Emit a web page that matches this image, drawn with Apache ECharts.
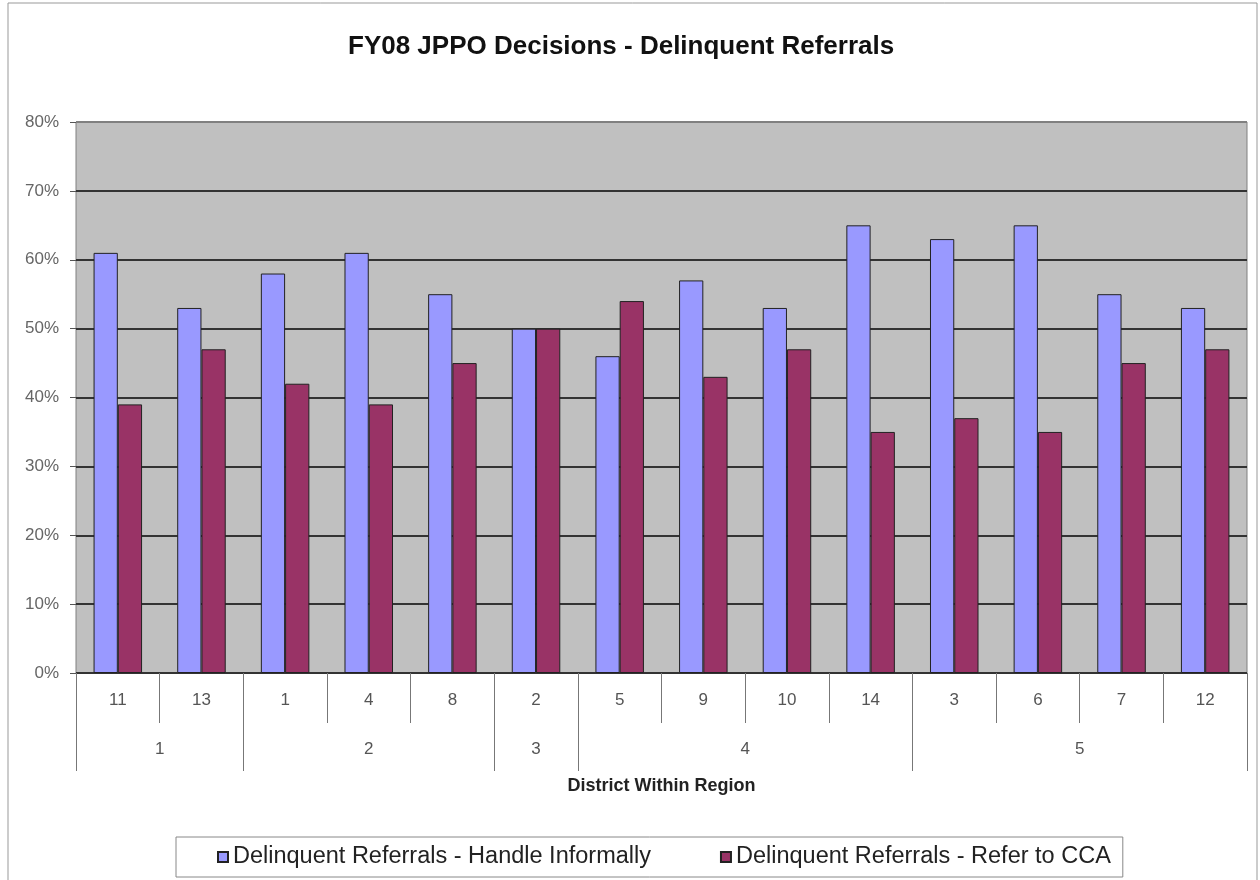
<!DOCTYPE html>
<html>
<head>
<meta charset="utf-8">
<script src="https://cdn.jsdelivr.net/npm/echarts@6/dist/echarts.min.js"></script>
<style>
  html, body { margin: 0; padding: 0; background: #fff; }
  #chart { width: 1260px; height: 880px; }
</style>
</head>
<body>
<div id="chart"></div>
<script>
  // districts on the first row, their region underneath
  var districts = ['11', '13', '1', '4', '8', '2', '5', '9', '10', '14', '3', '6', '7', '12'];
  var regionNames = ['1', '2', '3', '4', '5'];
  var regionSizes = [2, 3, 1, 4, 4]; // districts per region
  var handleInformally = [61, 53, 58, 61, 55, 50, 46, 57, 53, 65, 63, 65, 55, 53];
  var referToCCA = [39, 47, 42, 39, 45, 50, 54, 43, 47, 35, 37, 35, 45, 47];
  var yTicks = [0, 10, 20, 30, 40, 50, 60, 70, 80];

  // second row axis: half-category points, label at region middle, tick at region edges
  var regionRow = [];
  var regionEdges = [0];
  var pos = 0;
  for (var i = 0; i <= districts.length * 2; i++) regionRow.push('');
  regionSizes.forEach(function (n, k) {
    regionRow[pos + n] = regionNames[k];
    pos += n * 2;
    regionEdges.push(pos);
  });

  // gridlines dark, top one left to the gray plot border
  var gridColors = yTicks.map(function (v, i) { return i === yTicks.length - 1 ? '#808080' : '#333'; });

  var font = '"Liberation Sans", Arial, sans-serif';
  var chart = echarts.init(document.getElementById('chart'));
  var option = {
    backgroundColor: '#fff',
    animation: false,
    textStyle: { fontFamily: font },
    title: {
      text: 'FY08 JPPO Decisions - Delinquent Referrals',
      left: 343,
      top: 29,
      textStyle: { fontSize: 26, fontWeight: 'bold', color: '#111', fontFamily: font }
    },
    graphic: [{
      type: 'rect',
      shape: { x: 8, y: 3, width: 1249, height: 890 },
      style: { fill: 'none', stroke: '#999', lineWidth: 1 },
      silent: true
    }],
    legend: {
      left: 176,
      top: 837,
      padding: [8, 12, 8, 41],
      itemGap: 69,
      itemWidth: 10,
      itemHeight: 10,
      icon: 'rect',
      borderColor: '#888',
      borderWidth: 1,
      backgroundColor: '#fff',
      textStyle: { fontSize: 23.5, color: '#222', fontFamily: font }
    },
    grid: { left: 76, right: 13, top: 122, bottom: 207, show: true, backgroundColor: '#c0c0c0', borderColor: '#808080', borderWidth: 1 },
    xAxis: [{
      type: 'category',
      data: districts,
      axisLine: { lineStyle: { color: '#333', width: 1 } },
      axisTick: { show: true, interval: 0, length: 50, lineStyle: { color: '#777' } },
      axisLabel: { interval: 0, margin: 19, fontSize: 17, color: '#555' }
    }, {
      type: 'category',
      data: regionRow,
      boundaryGap: false,
      position: 'bottom',
      axisLine: { show: false },
      axisTick: {
        show: true, length: 98, lineStyle: { color: '#777' },
        interval: function (idx) { return regionEdges.indexOf(idx) >= 0; }
      },
      axisLabel: { interval: 0, margin: 68, fontSize: 17, color: '#555' },
      name: 'District Within Region',
      nameLocation: 'middle',
      nameGap: 104,
      nameTextStyle: { fontSize: 18, fontWeight: 'bold', color: '#222' }
    }],
    yAxis: {
      type: 'value',
      min: yTicks[0],
      max: yTicks[yTicks.length - 1],
      interval: 10,
      axisLine: { show: false },
      axisTick: { show: true, length: 6, lineStyle: { color: '#555' } },
      axisLabel: { formatter: '{value}%', fontSize: 17, color: '#666', margin: 17 },
      splitLine: { lineStyle: { color: gridColors, width: 2 } }
    },
    series: [{
      name: 'Delinquent Referrals - Handle Informally',
      type: 'bar',
      data: handleInformally,
      barGap: '0%',
      barCategoryGap: '42%',
      itemStyle: { color: '#9999ff', borderColor: '#222', borderWidth: 1 }
    }, {
      name: 'Delinquent Referrals - Refer to CCA',
      type: 'bar',
      data: referToCCA,
      itemStyle: { color: '#993366', borderColor: '#222', borderWidth: 1 }
    }]
  };
  chart.setOption(option);
</script>
</body>
</html>
